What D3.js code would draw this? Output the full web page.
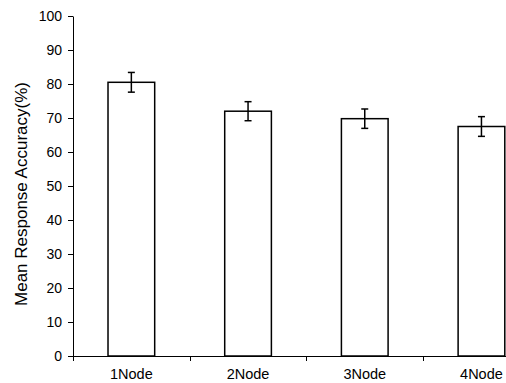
<!DOCTYPE html>
<html>
<head>
<meta charset="utf-8">
<script src="https://cdn.jsdelivr.net/npm/d3@7"></script>
<style>
  body { margin: 0; background: #fff; overflow: hidden; }
  text { font-family: "Liberation Sans", Arial, sans-serif; fill: #000; }
</style>
</head>
<body>
<div id="chart"></div>
<script>
  // values
  const categories = ["1Node", "2Node", "3Node", "4Node"],
    means = [80.5, 72.0, 69.8, 67.5],
    errors = [2.9, 2.8, 2.85, 2.9],
    yTicks = [0, 10, 20, 30, 40, 50, 60, 70, 80, 90, 100];

  const W = 506, H = 383,
    plotLeft = 73, plotTop = 16, plotBottom = 356,
    bandW = 116.7;

  const svg = d3.select("#chart").append("svg")
      .attr("width", W)
      .attr("height", H);

  const x = d3.scaleBand()
      .domain(categories)
      .range([plotLeft, plotLeft + bandW * categories.length])
      .paddingInner(0.6)
      .paddingOuter(0.3);

  const y = d3.scaleLinear()
      .domain([0, 100])
      .range([plotBottom, plotTop]);

  // y axis
  const yAxis = svg.append("g")
      .attr("transform", "translate(" + plotLeft + ",0)")
      .call(d3.axisLeft(y).tickValues(yTicks).tickSize(5).tickSizeOuter(0).tickPadding(6));
  yAxis.select(".domain").attr("stroke", "#000").attr("stroke-width", 1);
  yAxis.selectAll(".tick line").attr("stroke", "#000");
  yAxis.selectAll(".tick text").style("font-size", "14px").style("font-family", "Liberation Sans, Arial, sans-serif");

  // x axis line with ticks between categories
  svg.append("line")
      .attr("x1", plotLeft).attr("x2", W + 10)
      .attr("y1", plotBottom + 0.5).attr("y2", plotBottom + 0.5)
      .attr("stroke", "#000");

  const sep = d3.range(categories.length + 1).map(i => plotLeft + i * bandW);
  svg.selectAll(".sep")
      .data(sep)
      .enter().append("line")
        .attr("class", "sep")
        .attr("x1", d => Math.round(d) + 0.5).attr("x2", d => Math.round(d) + 0.5)
        .attr("y1", plotBottom).attr("y2", plotBottom + 5)
        .attr("stroke", "#000");

  svg.selectAll(".xLabel")
      .data(categories)
      .enter().append("text")
        .attr("class", "xLabel")
        .attr("x", d => x(d) + x.bandwidth() / 2)
        .attr("y", plotBottom + 23)
        .attr("text-anchor", "middle")
        .style("font-size", "14.5px")
        .text(d => d);

  // bars
  svg.selectAll(".bar")
      .data(means)
      .enter().append("rect")
        .attr("class", "bar")
        .attr("x", (d, i) => x(categories[i]))
        .attr("y", d => y(d))
        .attr("width", x.bandwidth())
        .attr("height", d => plotBottom - y(d))
        .attr("fill", "#fff")
        .attr("stroke", "#000")
        .attr("stroke-width", 1.5);

  // error bars
  const eb = svg.selectAll(".err")
      .data(means)
      .enter().append("g")
        .attr("class", "err")
        .attr("transform", (d, i) => "translate(" + (x(categories[i]) + x.bandwidth() / 2) + ",0)");

  eb.append("line")
      .attr("x1", 0).attr("x2", 0)
      .attr("y1", (d, i) => y(d + errors[i]))
      .attr("y2", (d, i) => y(d - errors[i]))
      .attr("stroke", "#000").attr("stroke-width", 1.5);
  eb.append("line")
      .attr("x1", -3.5).attr("x2", 3.5)
      .attr("y1", (d, i) => y(d + errors[i]))
      .attr("y2", (d, i) => y(d + errors[i]))
      .attr("stroke", "#000").attr("stroke-width", 1.5);
  eb.append("line")
      .attr("x1", -3.5).attr("x2", 3.5)
      .attr("y1", (d, i) => y(d - errors[i]))
      .attr("y2", (d, i) => y(d - errors[i]))
      .attr("stroke", "#000").attr("stroke-width", 1.5);

  // y axis title
  svg.append("text")
      .attr("transform", "translate(27,194) rotate(-90)")
      .attr("text-anchor", "middle")
      .style("font-size", "17px")
      .text("Mean Response Accuracy(%)");
</script>
</body>
</html>
